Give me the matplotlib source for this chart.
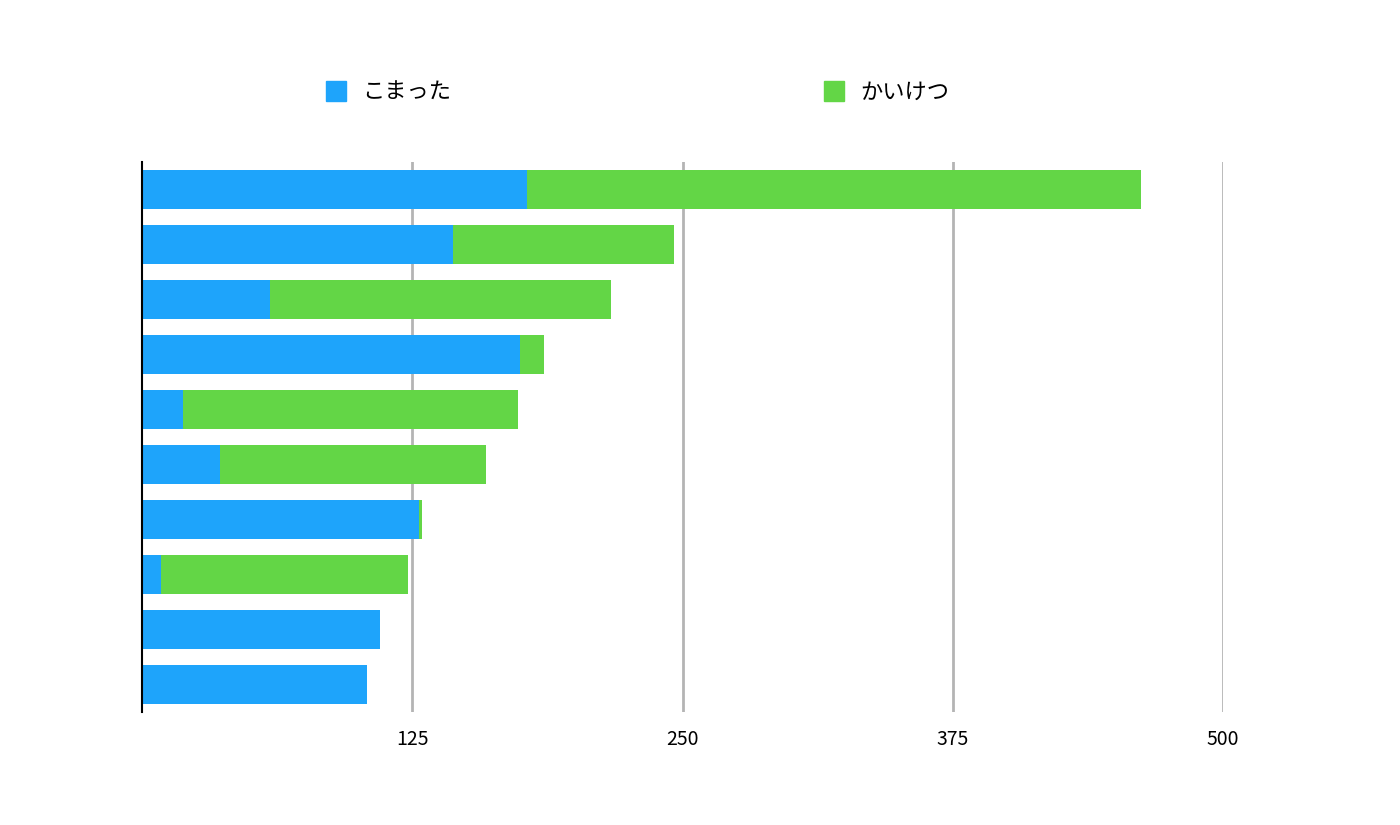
import matplotlib.pyplot as plt
from matplotlib.patches import Rectangle

plt.rcParams['font.family'] = ['Noto Sans CJK JP', 'DejaVu Sans']

series_names = ['こまった', 'かいけつ']
komatta = [178, 144, 59, 175, 19, 36, 128, 9, 110, 104]
kaiketsu = [284, 102, 158, 11, 155, 123, 1.4, 114, 0, 0]
ticks = [125, 250, 375, 500]
colors = ['#1ea4fb', '#63d646']

fig = plt.figure(figsize=(14, 8.25), dpi=100)
ax = fig.add_axes([0.1014, 0.137, 0.7722, 0.6667])

y = list(range(len(komatta)))[::-1]
ax.barh(y, komatta, height=0.7, color=colors[0])
ax.barh(y, kaiketsu, left=komatta, height=0.7, color=colors[1])

ax.set_xlim(0, 500)
ax.set_ylim(-0.5, len(komatta) - 0.5)
ax.set_xticks(ticks)
ax.set_xticklabels([str(t) for t in ticks], fontsize=14)
ax.set_yticks([])
ax.tick_params(axis='x', length=0, pad=12)
ax.grid(axis='x', color='#b4b4b4', linewidth=2)
ax.set_axisbelow(True)
for s in ['top', 'right', 'bottom']:
    ax.spines[s].set_visible(False)
ax.spines['left'].set_linewidth(1.5)

# legend
for xpix, name, c in zip([326, 824], series_names, colors):
    fig.add_artist(Rectangle((xpix / 1400, 1 - 101 / 825), 20 / 1400, 20 / 825,
                             color=c, transform=fig.transFigure))
    fig.text((xpix + 36) / 1400, 1 - 92 / 825, name, fontsize=16, va='center')

fig.savefig('out.png', dpi=100)
